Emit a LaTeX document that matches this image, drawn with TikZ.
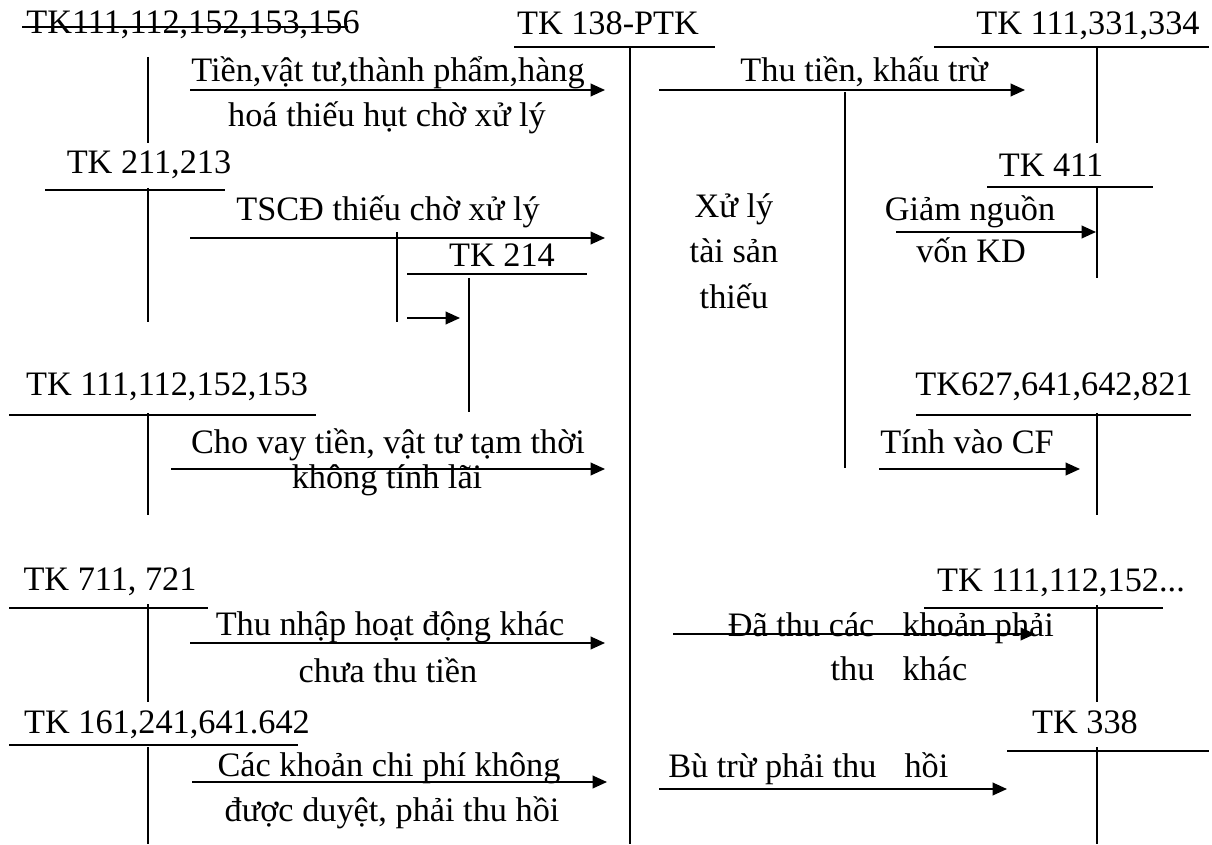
\documentclass[tikz,border=0pt]{standalone}
\usepackage{fontspec}
\setmainfont{Liberation Serif}
\usetikzlibrary{arrows.meta}
\begin{document}
\begin{tikzpicture}[x=0.35pt, y=-0.35pt,
    acc/.style={line width=0.7pt},
    arr/.style={line width=0.6pt, -{Triangle[length=5pt,width=4.4pt]}},
    txt/.style={inner sep=0pt, font=\fontsize{12}{14.2}\selectfont}]
    \useasboundingbox (0,0) rectangle (1212,844);

    % tai khoan ben trai
    \node[txt, anchor=base] (tk111a) at (193,34) {TK111,112,152,153,156};
    \draw[acc] (22,27) -- (348,27);
    \draw[acc] (148,57) -- (148,143);

    \node[txt] (tk211) at (149,165) {TK 211,213};
    \draw[acc] (45,190) -- (225,190);
    \draw[acc] (148,188) -- (148,322);

    \node[txt] (tk214) at (502,255) {TK 214};
    \draw[acc] (397,232) -- (397,322);
    \draw[acc] (407,274) -- (587,274);
    \draw[acc] (469,278) -- (469,412);

    \node[txt] (tk111b) at (167,387) {TK 111,112,152,153};
    \draw[acc] (9,415) -- (316,415);
    \draw[acc] (148,413) -- (148,515);

    \node[txt] (tk711) at (110,582) {TK 711, 721};
    \draw[acc] (9,608) -- (208,608);
    \draw[acc] (148,604) -- (148,702);

    \node[txt] (tk161) at (167,725) {TK 161,241,641.642};
    \draw[acc] (9,745) -- (298,745);
    \draw[acc] (148,747) -- (148,844);

    % tai khoan 138
    \node[txt, anchor=base] (tk138) at (608,35) {TK 138-PTK};
    \draw[acc] (514,47) -- (715,47);
    \draw[acc] (630,47) -- (630,844);
    \draw[acc] (845,92) -- (845,468);
    \node[txt, anchor=base] (xuly1) at (734,218) {Xử lý};
    \node[txt, anchor=base] (xuly2) at (734,263) {tài sản};
    \node[txt, anchor=base] (xuly3) at (734,308) {thiếu};

    % tai khoan ben phai
    \node[txt, anchor=base] (tk111c) at (1088,35) {TK 111,331,334};
    \draw[acc] (934,47) -- (1209,47);
    \draw[acc] (1097,47) -- (1097,143);

    \node[txt] (tk411) at (1051,165) {TK 411};
    \draw[acc] (987,187) -- (1153,187);
    \draw[acc] (1097,187) -- (1097,278);

    \node[txt] (tk627) at (1054,387) {TK627,641,642,821};
    \draw[acc] (916,415) -- (1191,415);
    \draw[acc] (1097,413) -- (1097,515);

    \node[txt] (tk111d) at (1061,583) {TK 111,112,152...};
    \draw[acc] (924,608) -- (1163,608);
    \draw[acc] (1097,605) -- (1097,702);

    \node[txt] (tk338) at (1085,722) {TK 338};
    \draw[acc] (1007,751) -- (1209,751);
    \draw[acc] (1097,747) -- (1097,844);

    % cac mui ten
    \coordinate (a1s) at (190,90);  \coordinate (a1e) at (605,90);
    \coordinate (a2s) at (659,90);  \coordinate (a2e) at (1025,90);
    \coordinate (a3s) at (190,238); \coordinate (a3e) at (605,238);
    \coordinate (a4s) at (407,318); \coordinate (a4e) at (460,318);
    \coordinate (a5s) at (896,232); \coordinate (a5e) at (1096,232);
    \coordinate (a6s) at (171,469); \coordinate (a6e) at (605,469);
    \coordinate (a7s) at (879,469); \coordinate (a7e) at (1080,469);
    \coordinate (a8s) at (190,643); \coordinate (a8e) at (605,643);
    \coordinate (a9s) at (673,634); \coordinate (a9e) at (1035,634);
    \coordinate (a10s) at (192,782); \coordinate (a10e) at (607,782);
    \coordinate (a11s) at (659,789); \coordinate (a11e) at (1007,789);

    \draw[arr] (a1s) -- (a1e);
    \draw[arr] (a2s) -- (a2e);
    \draw[arr] (a3s) -- (a3e);
    \draw[arr] (a4s) -- (a4e);
    \draw[arr] (a5s) -- (a5e);
    \draw[arr] (a6s) -- (a6e);
    \draw[arr] (a7s) -- (a7e);
    \draw[arr] (a8s) -- (a8e);
    \draw[arr] (a9s) -- (a9e);
    \draw[arr] (a10s) -- (a10e);
    \draw[arr] (a11s) -- (a11e);

    % nhan
    \node[txt, anchor=base] (l1a) at (388,82) {Tiền,vật tư,thành phẩm,hàng};
    \node[txt, anchor=base] (l1b) at (387,127) {hoá thiếu hụt chờ xử lý};
    \node[txt] (l2) at (864,72) {Thu tiền, khấu trừ};
    \node[txt] (l3) at (388,212) {TSCĐ thiếu chờ xử lý};
    \node[txt] (l5a) at (970,212) {Giảm nguồn};
    \node[txt] (l5b) at (971,250) {vốn KD};
    \node[txt] (l6a) at (388,445) {Cho vay tiền, vật tư tạm thời};
    \node[txt] (l6b) at (387,480) {không tính lãi};
    \node[txt] (l7) at (967,442) {Tính vào CF};
    \node[txt] (l8a) at (390,627) {Thu nhập hoạt động khác};
    \node[txt] (l8b) at (388,670) {chưa thu tiền};
    \node[txt, anchor=base east] (l9a) at (875,636) {Đã thu các};
    \node[txt, anchor=base west] (l9b) at (902,636) {khoản phải};
    \node[txt, anchor=base east] (l9c) at (875,680) {thu};
    \node[txt, anchor=base west] (l9d) at (902,680) {khác};
    \node[txt] (l10a) at (389,768) {Các khoản chi phí không};
    \node[txt] (l10b) at (392,813) {được duyệt, phải thu hồi};
    \node[txt, anchor=base east] (l11a) at (877,777) {Bù trừ phải thu};
    \node[txt, anchor=base west] (l11b) at (904,777) {hồi};
\end{tikzpicture}
\end{document}
